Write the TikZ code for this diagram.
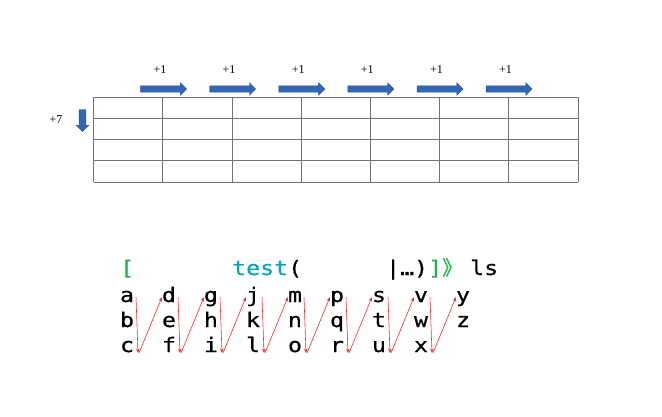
\documentclass[tikz,border=0pt]{standalone}
\usepackage{fontspec}
\setmainfont{Liberation Serif}
\newfontfamily\codefont[FakeStretch=1.16,FakeBold=0.6]{DejaVu Sans Mono}
\newfontfamily\cjkfont[FakeBold=0.6]{Noto Sans CJK SC}
\usetikzlibrary{calc,shapes.arrows,arrows.meta}
\definecolor{arrowblue}{RGB}{52,102,182}
\definecolor{arrowedge}{RGB}{40,78,150}
\definecolor{codegreen}{RGB}{30,180,70}
\definecolor{codeteal}{RGB}{0,170,185}
\definecolor{gridgray}{RGB}{115,115,115}
\definecolor{flowred}{RGB}{255,40,40}

\begin{document}
\begin{tikzpicture}
	[x=1pt,y=1pt,
	every node/.style={inner sep=0pt},
	stepnum/.style={font=\fontsize{12}{14}\selectfont},
	blockarrow/.style={single arrow,fill=arrowblue,draw=arrowedge,line width=0.4pt,
		single arrow head extend=3pt,inner sep=3pt,minimum width=12pt,minimum height=46pt},
	downarrow/.style={blockarrow,shape border rotate=270,inner sep=3.2pt,
		minimum width=11pt,minimum height=22pt},
	code/.style={font=\codefont\fontsize{20}{24}\selectfont,anchor=base west},
	letter/.style={font=\codefont\fontsize{20}{24}\selectfont,anchor=base},
	flow/.style={flowred,line width=0.6pt,-{Stealth[length=4.5pt,width=3.5pt]}}]
	\useasboundingbox (0,0) rectangle (662,-416);
	\draw[gridgray,line width=0.8pt,shift={(93.6,-182)}]
		(0,0) grid[xstep=69.2pt,ystep=21.25pt] (484.5,85.1);
	\foreach \k in {0,...,5}{
		\node[blockarrow] (move\k) at (162+69.1*\k,-89) {};
		\node[stepnum] (plus\k) at (160+69.1*\k,-70) {+1};
	}
	\node[downarrow] (down) at (82.5,-119) {};
	\node[stepnum] (plus7) at (56,-120) {+7};
	\node[code,text=codegreen] (open) at (120,-275) {[};
	\node[code,text=codeteal] (test) at (232,-275) {test};
	\node[code] (paren) at (288,-275) {(};
	\node[code] (tail) at (386,-275) {|…)};
	\node[code,text=codegreen] (close) at (428,-275) {]\cjkfont 》};
	\node[code] (ls) at (470,-275) {ls};
	\foreach \ch [count=\i from 0] in {a,...,z}{
		\pgfmathtruncatemacro\c{\i/3}
		\pgfmathtruncatemacro\r{mod(\i,3)}
		\node[letter] (L\c-\r) at (127+42*\c,-302-25*\r) {\ch};
	}
	\foreach \c [evaluate=\c as \n using int(\c+1)] in {0,...,7}{
		\draw[flow] ($(L\c-0.base)+(9,5)$) -- ($(L\c-2.base)+(11,-1)$);
		\draw[flow] ($(L\c-2.base)+(12,-1)$) -- ($(L\n-0.base)+(-7,5)$);
	}
\end{tikzpicture}
\end{document}
